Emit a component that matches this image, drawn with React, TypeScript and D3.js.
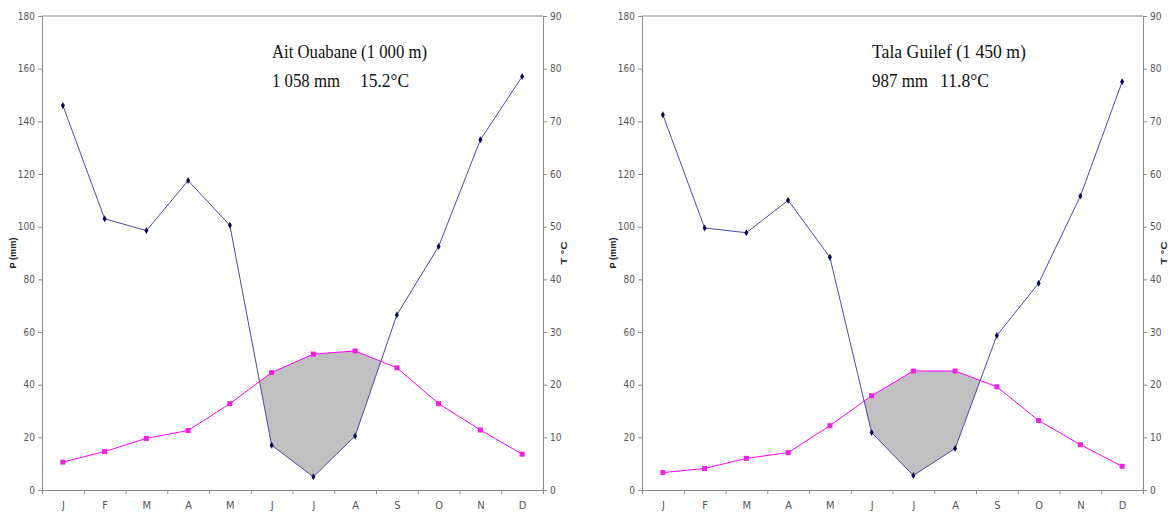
import React, { useEffect, useRef } from "react";
import * as d3 from "d3";

// month labels
const months = ["J", "F", "M", "A", "M", "J", "J", "A", "S", "O", "N", "D"];

// Ait Ouabane (1 000 m)
const precipAit = [146, 103, 98.5, 117.5, 100.5, 17, 5, 20.5, 66.5, 92.5, 133, 157];
const tempAit = [5.3, 7.3, 9.8, 11.3, 16.4, 22.3, 25.8, 26.4, 23.2, 16.4, 11.4, 6.8];

// Tala Guilef (1 450 m)
const precipTala = [142.5, 99.5, 97.7, 110, 88.4, 21.8, 5.5, 15.8, 58.7, 78.5, 111.6, 155];
const tempTala = [3.3, 4.1, 6.0, 7.1, 12.2, 17.9, 22.6, 22.6, 19.6, 13.2, 8.6, 4.5];

const precipTicks = [0, 20, 40, 60, 80, 100, 120, 140, 160, 180];
const tempTicks = [0, 10, 20, 30, 40, 50, 60, 70, 80, 90];

const TICK_FONT = "'Liberation Sans Narrow', 'Arial Narrow', 'DejaVu Sans Condensed', sans-serif";
const AXIS_GREY = "#8a8a8a";

type ChartProps = {
  x0: number;
  x1: number;
  precip: number[];
  temp: number[];
  title: string;
  titleWidth: number;
  rain: string;
  rainWidth: number;
  meanT: string;
  meanTX: number;
};

const Diagram = (props: ChartProps) => {
  const { x0, x1, precip, temp, title, titleWidth, rain, rainWidth, meanT, meanTX } = props;
  const ref = useRef<SVGGElement>(null);
  const top = 16;
  const bottom = 490;

  useEffect(() => {
    const g = d3.select(ref.current);
    g.selectAll("*").remove();

    const x = d3.scaleLinear().domain([0, 12]).range([x0, x1]);
    const yP = d3.scaleLinear().domain([0, 180]).range([bottom, top]);
    const yT = d3.scaleLinear().domain([0, 90]).range([bottom, top]);

    //shaded dry season: where P < 2T
    const d = precip.map((p, i) => p - 2 * temp[i]);
    const upper: [number, number][] = [];
    const lower: [number, number][] = [];
    for (let i = 0; i < 12; i++) {
      if (d[i] < 0) {
        upper.push([x(i + 0.5), yT(temp[i])]);
        lower.push([x(i + 0.5), yP(precip[i])]);
      }
      if (i < 11 && Math.sign(d[i]) !== Math.sign(d[i + 1])) {
        const t = d[i] / (d[i] - d[i + 1]);
        const tv = temp[i] + t * (temp[i + 1] - temp[i]);
        const pt: [number, number] = [x(i + 0.5 + t), yT(tv)];
        upper.push(pt);
        lower.push(pt);
      }
    }
    const poly = upper.concat(lower.slice().reverse());
    g.append("path")
      .attr("d", d3.line()(poly) + "Z")
      .attr("fill", "#c0c0c0")
      .attr("stroke", "none");

    //frame
    g.append("line")
      .attr("x1", x0).attr("x2", x1)
      .attr("y1", top).attr("y2", top)
      .attr("stroke", AXIS_GREY);

    //left axis
    const leftAxis = g
      .append("g")
      .attr("transform", `translate(${x0},0)`)
      .call(d3.axisLeft(yP).tickValues(precipTicks).tickSize(4).tickPadding(3));
    //right axis
    const rightAxis = g
      .append("g")
      .attr("transform", `translate(${x1},0)`)
      .call(d3.axisRight(yT).tickValues(tempTicks).tickSize(4).tickPadding(3));
    //x axis ticks
    const xTicks = g
      .append("g")
      .attr("transform", `translate(0,${bottom})`)
      .call(d3.axisBottom(x).tickValues(d3.range(13)).tickSize(4).tickFormat(() => ""));
    //x labels
    const xLabels = g
      .append("g")
      .attr("transform", `translate(0,${bottom})`)
      .call(
        d3.axisBottom(x)
          .tickValues(d3.range(12).map((i) => i + 0.5))
          .tickSize(0)
          .tickPadding(11)
          .tickFormat((v) => months[Math.floor(+v)])
      );
    xLabels.select(".domain").remove();

    [leftAxis, rightAxis, xTicks, xLabels].forEach((a) => {
      a.selectAll("path, line").attr("stroke", AXIS_GREY);
      a.selectAll("text")
        .attr("fill", "#555")
        .style("font-family", TICK_FONT)
        .style("font-size", "10px");
    });
    xLabels.selectAll("text").style("font-size", "11px");

    //axis titles
    g.append("text")
      .attr("transform", `translate(${x0 - 26},253) rotate(-90)`)
      .attr("text-anchor", "middle")
      .attr("textLength", 31)
      .attr("lengthAdjust", "spacingAndGlyphs")
      .style("font-family", "'Liberation Sans', Arial, sans-serif")
      .style("font-size", "9px")
      .style("font-weight", "bold")
      .attr("fill", "#222")
      .text("P (mm)");
    g.append("text")
      .attr("transform", `translate(${x1 + 24},253) rotate(-90)`)
      .attr("text-anchor", "middle")
      .attr("textLength", 23)
      .attr("lengthAdjust", "spacingAndGlyphs")
      .style("font-family", "'Liberation Sans', Arial, sans-serif")
      .style("font-size", "9px")
      .style("font-weight", "bold")
      .attr("fill", "#222")
      .text("T °C");

    //precipitation line
    const lineP = d3
      .line<number>()
      .x((v, i) => x(i + 0.5))
      .y((v) => yP(v));
    g.append("path")
      .attr("d", lineP(precip))
      .attr("fill", "none")
      .attr("stroke", "#4a4aa6")
      .attr("stroke-width", 1);

    //temperature line
    const lineT = d3
      .line<number>()
      .x((v, i) => x(i + 0.5))
      .y((v) => yT(v));
    g.append("path")
      .attr("d", lineT(temp))
      .attr("fill", "none")
      .attr("stroke", "#ff00ff")
      .attr("stroke-width", 1);

    //markers
    g.selectAll(".pmark")
      .data(precip)
      .enter()
      .append("path")
      .attr("class", "pmark")
      .attr("d", d3.symbol(d3.symbolDiamond, 14)())
      .attr("transform", (v, i) => `translate(${x(i + 0.5)},${yP(v)})`)
      .attr("fill", "#0a0a5a");

    g.selectAll(".tmark")
      .data(temp)
      .enter()
      .append("rect")
      .attr("class", "tmark")
      .attr("x", (v, i) => x(i + 0.5) - 2.5)
      .attr("y", (v) => yT(v) - 2.5)
      .attr("width", 5)
      .attr("height", 5)
      .attr("fill", "#f020e0");

    //station title
    const serif = "'Liberation Serif', 'Times New Roman', serif";
    const tx = x0 + 230;
    g.append("text")
      .attr("x", tx)
      .attr("y", 58)
      .attr("textLength", titleWidth)
      .attr("lengthAdjust", "spacingAndGlyphs")
      .style("font-family", serif)
      .style("font-size", "19px")
      .attr("fill", "#111")
      .text(title);
    g.append("text")
      .attr("x", tx)
      .attr("y", 87)
      .attr("textLength", rainWidth)
      .attr("lengthAdjust", "spacingAndGlyphs")
      .style("font-family", serif)
      .style("font-size", "19px")
      .attr("fill", "#111")
      .text(rain);
    g.append("text")
      .attr("x", meanTX)
      .attr("y", 87)
      .attr("textLength", 49)
      .attr("lengthAdjust", "spacingAndGlyphs")
      .style("font-family", serif)
      .style("font-size", "19px")
      .attr("fill", "#111")
      .text(meanT);
  }, [x0, x1, precip, temp]);

  return <g ref={ref}></g>;
};

const App = () => {
  return (
    <svg
      width={1172}
      height={516}
      style={{ position: "absolute", left: 0, top: 0, background: "#fff" }}
    >
      <Diagram
        x0={42}
        x1={543}
        precip={precipAit}
        temp={tempAit}
        title="Ait Ouabane (1 000 m)"
        titleWidth={155}
        rain="1 058 mm"
        rainWidth={68}
        meanT="15.2°C"
        meanTX={360}
      />
      <Diagram
        x0={642}
        x1={1143}
        precip={precipTala}
        temp={tempTala}
        title="Tala Guilef (1 450 m)"
        titleWidth={154}
        rain="987 mm"
        rainWidth={56}
        meanT="11.8°C"
        meanTX={940}
      />
    </svg>
  );
};

export default App;
